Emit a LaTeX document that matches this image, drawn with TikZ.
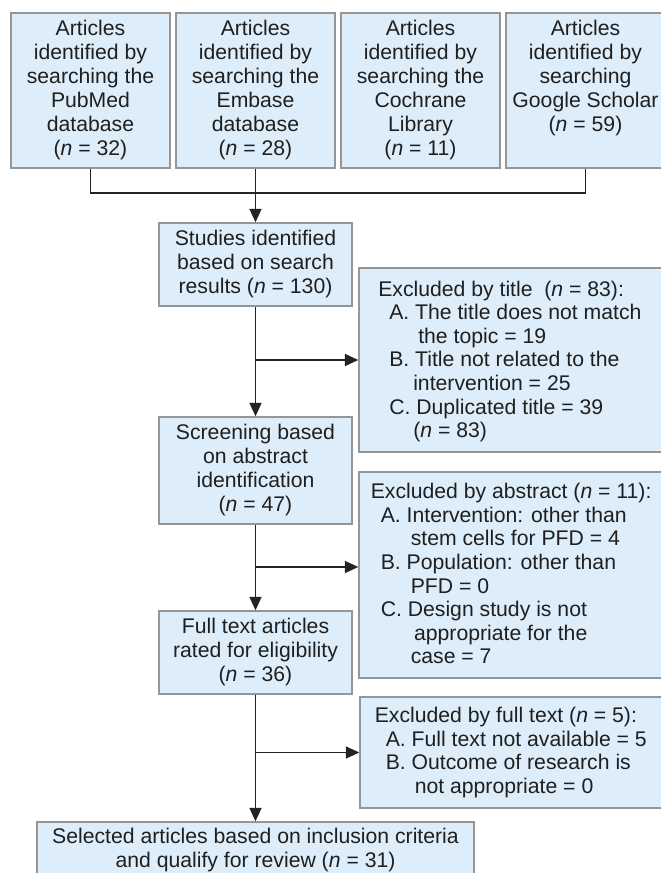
\documentclass[tikz,border=0pt]{standalone}
\usepackage{fontspec}
\setmainfont{Liberation Sans}
\usetikzlibrary{arrows.meta}
\definecolor{boxfill}{RGB}{221,238,250}
\definecolor{boxline}{RGB}{150,150,150}
\definecolor{connline}{RGB}{35,35,35}
\begin{document}
\begin{tikzpicture}[x=0.75pt,y=-0.75pt,
  box/.style={draw=boxline, fill=boxfill, line width=1.1pt, inner sep=0pt},
  ctext/.style={inner sep=0pt, align=center, anchor=north,
    font=\fontsize{15.9pt}{18.1pt}\selectfont, text=black!88},
  ltext/.style={inner sep=0pt, align=left, anchor=north west,
    font=\fontsize{15.9pt}{17.7pt}\selectfont, text=black!88},
  conn/.style={draw=connline, line width=1pt},
  arr/.style={conn, -{Triangle[length=10pt,width=9pt]}}]
\useasboundingbox (0,0) rectangle (660,873);

% top boxes
\node[box, minimum width=119.25pt, minimum height=116.25pt] (b1) at (90.5,90.5) {};
\node[box, minimum width=119.25pt, minimum height=116.25pt] (b2) at (255.5,90.5) {};
\node[box, minimum width=119.25pt, minimum height=116.25pt] (b3) at (420.5,90.5) {};
\node[box, minimum width=119.25pt, minimum height=116.25pt] (b4) at (585.5,90.5) {};
\node[ctext] (b1t) at ([yshift=-5.5pt]b1.north) {Articles\\identified by\\searching the\\PubMed\\database\\(\textit{n} = 32)};
\node[ctext] (b2t) at ([yshift=-5.5pt]b2.north) {Articles\\identified by\\searching the\\Embase\\database\\(\textit{n} = 28)};
\node[ctext] (b3t) at ([yshift=-5.5pt]b3.north) {Articles\\identified by\\searching the\\Cochrane\\Library\\(\textit{n} = 11)};
\node[ctext] (b4t) at ([yshift=-5.5pt]b4.north) {Articles\\identified by\\searching\\Google Scholar\\(\textit{n} = 59)};

% main column
\node[box, minimum width=144.75pt, minimum height=62.25pt] (stud) at (255.5,264.5) {};
\node[ctext] (studt) at ([yshift=-5.5pt]stud.north) {Studies identified\\based on search\\results (\textit{n} = 130)};
\node[box, minimum width=144.75pt, minimum height=80.25pt] (scr) at (255.5,470.5) {};
\node[ctext] (scrt) at ([yshift=-5.5pt]scr.north) {Screening based\\on abstract\\identification\\(\textit{n} = 47)};
\node[box, minimum width=144.75pt, minimum height=62.25pt] (full) at (255.5,652.5) {};
\node[ctext] (fullt) at ([yshift=-5.5pt]full.north) {Full text articles\\rated for eligibility\\(\textit{n} = 36)};
\node[box, minimum width=327.75pt, minimum height=62.25pt] (sel) at (255.5,863.5) {};
\node[ctext] (selt) at ([yshift=-5pt]sel.north) {Selected articles based on inclusion criteria\\and qualify for review (\textit{n} = 31)};

% exclusion boxes
\node[box, minimum width=229.5pt, minimum height=138pt] (xt) at (512,360) {};
\node[ltext] (xtt) at (378,280.5) {Excluded by title~ (\textit{n} = 83):\\
\hspace*{8.25pt}A. The title does not match\\
\hspace*{30pt}the topic = 19\\
\hspace*{8.25pt}B. Title not related to the\\
\hspace*{26.25pt}intervention = 25\\
\hspace*{8.25pt}C. Duplicated title = 39\\
\hspace*{26.25pt}(\textit{n} = 83)};
\node[box, minimum width=229.5pt, minimum height=154.5pt] (xa) at (512,575) {};
\node[ltext] (xat) at (370.5,483) {Excluded by abstract (\textit{n} = 11):\\
\hspace*{7.5pt}A. Intervention: other than\\
\hspace*{30pt}stem cells for PFD = 4\\
\hspace*{7.5pt}B. Population: other than\\
\hspace*{30pt}PFD = 0\\
\hspace*{7.5pt}C. Design study is not\\
\hspace*{32.5pt}appropriate for the\\
\hspace*{30pt}case = 7};
\node[box, minimum width=228.75pt, minimum height=83.25pt] (xf) at (512.5,752.5) {};
\node[ltext] (xft) at (374.5,707) {Excluded by full text (\textit{n} = 5):\\
\hspace*{8.25pt}A. Full text not available = 5\\
\hspace*{8.25pt}B. Outcome of research is\\
\hspace*{30pt}not appropriate = 0};

% connectors
\coordinate (h) at (0,193);
\draw[conn] (b1.south) -- (b1.south |- h) -- (b4.south |- h) -- (b4.south);
\draw[arr] (b2.south) -- (stud.north);
\draw[arr] (stud.south) -- (scr.north);
\draw[arr] (stud.south |- xt.west) -- (xt.west);
\draw[arr] (scr.south) -- (full.north);
\coordinate (j2) at (255.5,567);
\draw[arr] (j2) -- (j2 -| xa.west);
\draw[arr] (full.south) -- (sel.north);
\draw[arr] (full.south |- xf.west) -- (xf.west);
\end{tikzpicture}
\end{document}
